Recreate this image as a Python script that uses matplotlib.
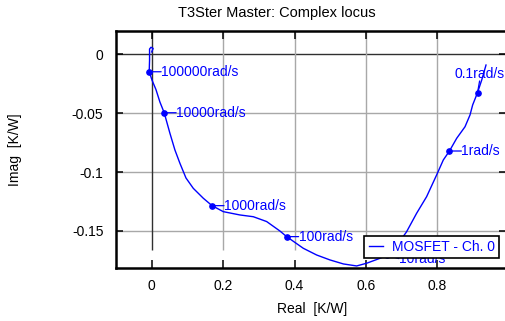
import matplotlib
matplotlib.use("Agg")
import matplotlib.pyplot as plt

plt.rcParams['font.family'] = ['Liberation Sans', 'DejaVu Sans']

# Complex locus (Real, Imag) from high to low frequency
real_vals = [0.000, 0.004, -0.002, -0.006, -0.006, -0.007, 0.001, 0.012, 0.023, 0.035,
             0.051, 0.065, 0.079, 0.096, 0.1165, 0.1445, 0.169, 0.2006, 0.247, 0.2846,
             0.322, 0.359, 0.378, 0.4246, 0.462, 0.4994, 0.537, 0.574, 0.602, 0.6395,
             0.659, 0.687, 0.7137, 0.742, 0.770, 0.798, 0.8168, 0.834, 0.8543, 0.8776,
             0.8916, 0.899, 0.9126, 0.9244, 0.9364]
imag_vals = [0.002, 0.005, 0.006, 0.0045, -0.005, -0.0148, -0.022, -0.030, -0.0405, -0.0496,
             -0.067, -0.0812, -0.0925, -0.105, -0.1138, -0.1222, -0.1285, -0.1336, -0.1364, -0.1379,
             -0.142, -0.150, -0.1548, -0.1647, -0.1704, -0.1746, -0.178, -0.1797, -0.1774, -0.1732,
             -0.1705, -0.162, -0.1508, -0.135, -0.1209, -0.1025, -0.0897, -0.0821, -0.0713, -0.0615,
             -0.0515, -0.043, -0.0326, -0.0218, -0.0091]

freq_labels = ['0.1rad/s', '1rad/s', '10rad/s', '100rad/s', '1000rad/s', '10000rad/s', '100000rad/s']
marker_re = [0.9126, 0.834, 0.659, 0.378, 0.169, 0.035, -0.007]
marker_im = [-0.0326, -0.0821, -0.1705, -0.1548, -0.1285, -0.0496, -0.0148]

x_ticks = [0, 0.2, 0.4, 0.6, 0.8]
x_ticklabels = ['0', '0.2', '0.4', '0.6', '0.8']
y_ticks = [0, -0.05, -0.1, -0.15]
y_ticklabels = ['0', '-0.05', '-0.1', '-0.15']

series_name = 'MOSFET - Ch. 0'
title = 'T3Ster Master: Complex locus'

W, H = 506, 321
fig = plt.figure(figsize=(W / 100, H / 100), dpi=100)
ax = fig.add_axes([116 / W, 1 - 267.6 / H, 390 / W, (267.6 - 31) / H])
ax.set_xlim(-0.1, 0.9924)
ax.set_ylim(-0.1811, 0.0198)

# grid
for yv in y_ticks:
    ax.axhline(yv, color='#303030' if yv == 0 else '#a8a8a8', lw=1.0, zorder=0.5)
for xv in x_ticks:
    ax.vlines(xv, -0.166, 0.0198, color='#303030' if xv == 0 else '#a8a8a8', lw=1.0, zorder=0.5)

blue = '#0000ff'
ax.plot(real_vals, imag_vals, color=blue, lw=1.0, label=series_name, zorder=2)
ax.plot(marker_re, marker_im, 'o', color=blue, ms=3.8, zorder=2.5)

for i, (lab, mx, my) in enumerate(zip(freq_labels, marker_re, marker_im)):
    if i == 0:
        ax.annotate(lab, xy=(mx, my), xytext=(1.5, 13.5), textcoords='offset points',
                    ha='center', va='center', color=blue, fontsize=10,
                    arrowprops=dict(arrowstyle='-', color=blue, lw=0.9,
                                    patchA=None, shrinkA=0, shrinkB=0, relpos=(0.5, 0.0)),
                    zorder=3)
    else:
        dy = -2.5 if i == 2 else 0
        ax.annotate(lab, xy=(mx, my), xytext=(8.6, dy), textcoords='offset points',
                    ha='left', va='center', color=blue, fontsize=10,
                    arrowprops=dict(arrowstyle='-', color=blue, lw=0.9,
                                    patchA=None, shrinkA=0, shrinkB=0, relpos=(0.0, 0.5)),
                    zorder=3)

ax.set_xticks(x_ticks)
ax.set_xticklabels(x_ticklabels)
ax.set_yticks(y_ticks)
ax.set_yticklabels(y_ticklabels)
ax.tick_params(axis='x', direction='in', length=6, width=1.1, top=True, bottom=True,
               labelsize=10, pad=8)
ax.tick_params(axis='y', direction='in', length=5, width=1.1, left=True, right=True,
               labelsize=10, pad=9)

for side in ['left', 'top', 'bottom']:
    ax.spines[side].set_linewidth(1.8)
    ax.spines[side].set_color('black')
ax.spines['right'].set_visible(False)

ax.set_xlabel('Real  [K/W]', fontsize=10)
ax.xaxis.set_label_coords((312 - 116) / 390, (267.6 - 308.5) / 236.6)
ax.xaxis.label.set_va('center')
ax.set_ylabel('Imag  [K/W]', fontsize=10)
ax.yaxis.set_label_coords((15 - 116) / 390, (267.6 - 150) / 236.6)
ax.yaxis.label.set_va('center')

fig.text(276.5 / W, 1 - 12.7 / H, title, ha='center', va='center', fontsize=10.5)

leg = ax.legend(loc='lower right', bbox_to_anchor=(499.3 / W, 1 - 258.3 / H),
                bbox_transform=fig.transFigure, borderaxespad=0, fancybox=False,
                framealpha=1, edgecolor='black', fontsize=10, borderpad=0.3,
                handlelength=1.05, handletextpad=0.65, labelcolor=blue)
leg.get_frame().set_linewidth(1.2)
leg.set_zorder(5)

fig.savefig('out.png', dpi=100)
